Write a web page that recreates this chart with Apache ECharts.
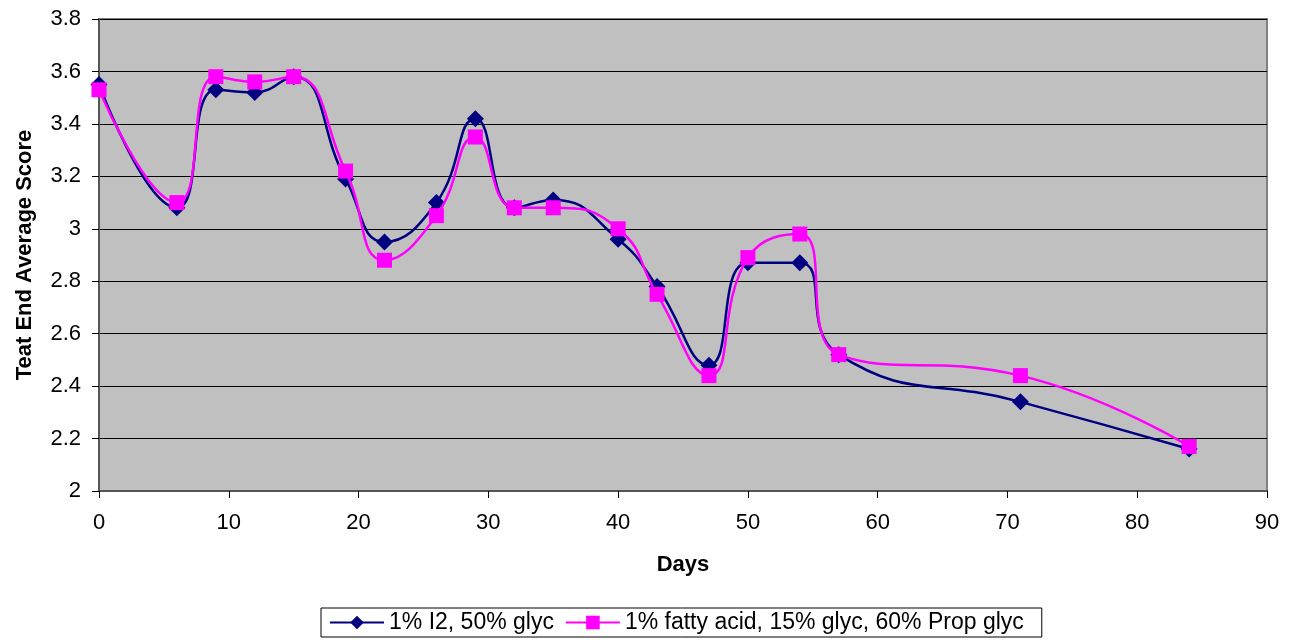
<!DOCTYPE html>
<html>
<head>
<meta charset="utf-8">
<script src="https://cdn.jsdelivr.net/npm/echarts@6/dist/echarts.min.js"></script>
<style>html,body{margin:0;padding:0;background:#fff}#c{width:1293px;height:643px}</style>
</head>
<body>
<div id="c"></div>
<script>
const days = [0, 6, 9, 12, 15, 19, 22, 26, 29, 32, 35, 40, 43, 47, 50, 54, 57, 71, 84];
const seriesA = [3.55, 3.08, 3.53, 3.52, 3.58, 3.19, 2.95, 3.10, 3.42, 3.08, 3.11, 2.96, 2.78, 2.48, 2.87, 2.87, 2.52, 2.34, 2.16];
const seriesB = [3.53, 3.10, 3.58, 3.56, 3.58, 3.22, 2.88, 3.05, 3.35, 3.08, 3.08, 3.00, 2.75, 2.44, 2.89, 2.98, 2.52, 2.44, 2.17];
const nameA = '1% I2, 50% glyc';
const nameB = '1% fatty acid, 15% glyc, 60% Prop glyc';

const font = '"Liberation Sans", Arial, sans-serif';
const fs = 22;
const chart = echarts.init(document.getElementById('c'));
const pair = (xs, ys) => xs.map((x, i) => [x, ys[i]]);
chart.setOption({
  animation: false,
  backgroundColor: '#ffffff',
  grid: {left: 99, right: 26, top: 19, bottom: 152, show: true, backgroundColor: '#C0C0C0', borderColor: '#808080', borderWidth: 2},
  legend: {
    left: 321, top: 608, padding: [3, 18, 3, 8], itemGap: 11,
    borderColor: '#000', borderWidth: 1,
    itemWidth: 54, itemHeight: 17,
    textStyle: {fontFamily: font, fontSize: 23, color: '#000'},
    data: [nameA, nameB]
  },
  xAxis: {
    type: 'value', min: 0, max: 90, interval: 10,
    name: 'Days', nameLocation: 'middle', nameGap: 63,
    nameTextStyle: {fontFamily: font, fontSize: fs, fontWeight: 'bold', color: '#000'},
    axisLine: {show: true, onZero: false, lineStyle: {color: '#555', width: 2}},
    axisTick: {show: true, length: 7, lineStyle: {color: '#000'}},
    axisLabel: {fontFamily: font, fontSize: fs, color: '#000', margin: 21},
    splitLine: {show: false}
  },
  yAxis: {
    type: 'value', min: 2, max: 3.8, interval: 0.2,
    name: 'Teat End Average Score', nameLocation: 'middle', nameGap: 63,
    nameTextStyle: {fontFamily: font, fontSize: fs, fontWeight: 'bold', color: '#000'},
    axisLine: {show: true, lineStyle: {color: '#555', width: 2}},
    axisTick: {show: true, length: 7, lineStyle: {color: '#000'}},
    axisLabel: {fontFamily: font, fontSize: fs, color: '#000', margin: 18,
      formatter: v => String(Math.round(v * 10) / 10)},
    splitLine: {show: true, lineStyle: {color: '#000', width: 1}}
  },
  series: [
    {name: nameA, type: 'line', data: pair(days, seriesA), smooth: 0.5,
     symbol: 'diamond', symbolSize: 17, itemStyle: {color: '#000080'},
     lineStyle: {color: '#000080', width: 2.5}, z: 2},
    {name: nameB, type: 'line', data: pair(days, seriesB), smooth: 0.5,
     symbol: 'rect', symbolSize: 15, itemStyle: {color: '#FF00FF'},
     lineStyle: {color: '#FF00FF', width: 2.5}, z: 3}
  ]
});
</script>
</body>
</html>
